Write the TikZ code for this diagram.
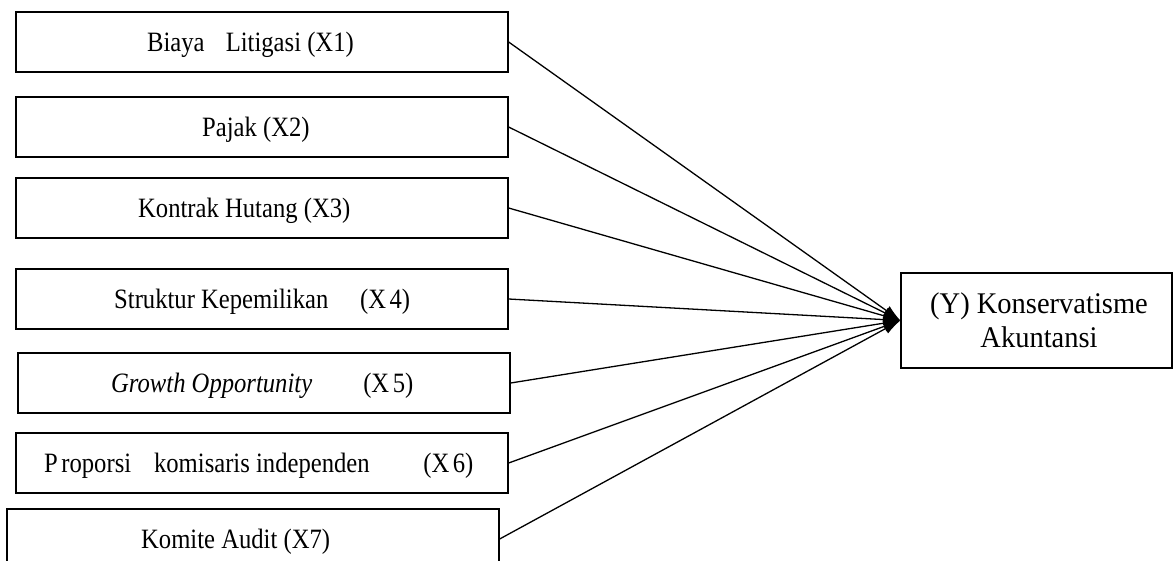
\documentclass[tikz,border=0pt]{standalone}
\usepackage{fontspec}
\setmainfont{Liberation Serif}
\usetikzlibrary{arrows.meta}
\def\Cond#1{\scalebox{0.88}[1]{#1}}
\def\VarBox#1#2#3#4#5{%
 \node[var box] (#1) at (#2+246,#3+30) {};
 \node[var text] (#1t) at (#4,#3+39) {\Cond{#5}};
}

\begin{document}
\begin{tikzpicture}[x=1pt, y=-1pt,
  var box/.style={draw=black, line width=1.3pt, inner sep=0pt,
        minimum width=492pt, minimum height=60pt},
  var text/.style={anchor=base west, inner sep=0pt,
        font=\fontsize{28}{33}\selectfont},
  dep text/.style={anchor=base, inner sep=0pt,
        font=\fontsize{30}{34}\selectfont},
  link/.style={draw=black, line width=1.3pt, -{Latex[length=17pt,width=11pt]}}
  ]
\useasboundingbox (0,0) rectangle (1174,560);
\clip (0,0) rectangle (1174,560);
% independent variables
\VarBox{x1}{16}{12}{147}{Biaya\hspace{24pt}Litigasi (X1)}
\VarBox{x2}{16}{97}{202}{Pajak (X2)}
\VarBox{x3}{16}{178}{138}{Kontrak Hutang (X3)}
\VarBox{x4}{16}{269}{114}{Struktur Kepemilikan\hspace{36pt}(X\hspace{4pt}4)}
\VarBox{x5}{18}{353}{111}{\textit{Growth Opportunity}\hspace{58pt}(X\hspace{4pt}5)}
\VarBox{x6}{16}{433}{44}{P\hspace{4pt}roporsi\hspace{26pt}komisaris independen\hspace{61pt}(X\hspace{4pt}6)}
\VarBox{x7}{7}{509}{141}{Komite Audit (X7)}
% dependent variable
\node[draw=black, line width=1.3pt, inner sep=0pt,
      minimum width=271pt, minimum height=95pt] (y) at (1036.5,320.5) {};
\node[dep text] (yt1) at (1039,313) {\scalebox{0.95}[1]{(Y) Konservatisme}};
\node[dep text] (yt2) at (1039,347) {\scalebox{0.95}[1]{Akuntansi}};
\foreach \i in {1,...,7}
  \draw[link] (x\i.east) -- (y.west);
\end{tikzpicture}
\end{document}
